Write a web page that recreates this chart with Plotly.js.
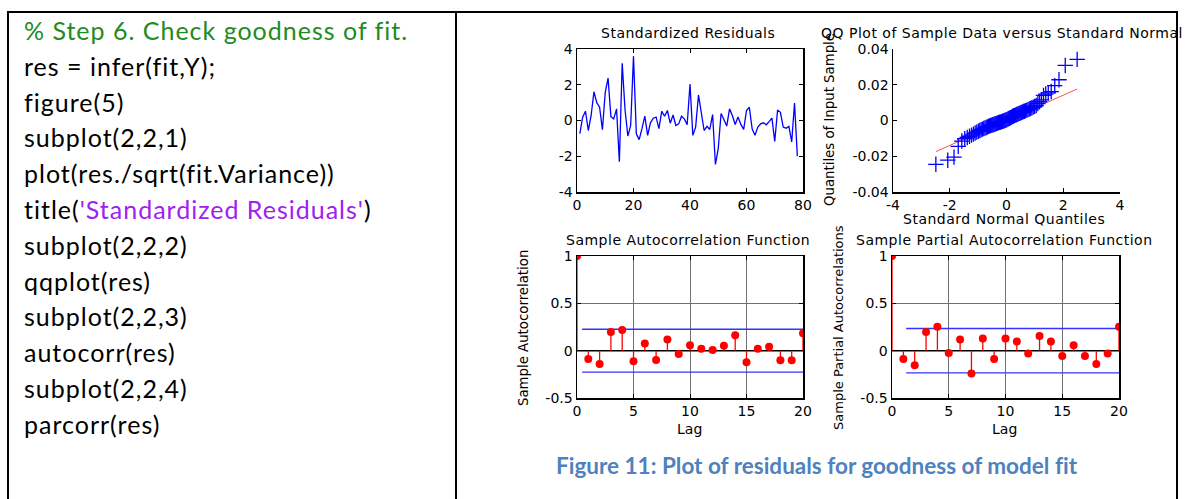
<!DOCTYPE html>
<html>
<head>
<meta charset="utf-8">
<script src="https://cdn.plot.ly/plotly-3.0.1.min.js"></script>
<style>
html,body{margin:0;padding:0;background:#fff;}
#chart{width:1189px;height:499px;}
svg text{font-variant-ligatures:none;font-feature-settings:"liga" 0;}
</style>
</head>
<body>
<div id="chart"></div>
<script>
// ---------------- data ----------------
const codeLines = [
  "% Step 6. Check goodness of fit.",
  "res = infer(fit,Y);",
  "figure(5)",
  "subplot(2,2,1)",
  "plot(res./sqrt(fit.Variance))",
  "title('Standardized Residuals')",
  "subplot(2,2,2)",
  "qqplot(res)",
  "subplot(2,2,3)",
  "autocorr(res)",
  "subplot(2,2,4)",
  "parcorr(res)"
];
const captionText = "Figure 11: Plot of residuals for goodness of model fit";

const residIndex = [1,2,3,4,5,6,7,8,9,10,11,12,13,14,15,16,17,18,19,20,21,22,23,24,25,26,27,28,29,30,31,32,33,34,35,36,37,38,39,40,41,42,43,44,45,46,47,48,49,50,51,52,53,54,55,56,57,58,59,60,61,62,63,64,65,66,67,68,69,70,71,72,73,74,75,76,77,78];
const stdResiduals = [-0.74,0.19,0.52,-0.56,0.28,1.61,1.0,0.74,-0.52,1.57,2.37,0.22,0.09,0.65,-2.31,3.2,0.6,-0.87,-0.28,3.6,
  -0.74,-1.07,-0.46,0.24,-0.83,-0.13,0.13,0.19,-0.46,0.52,0.24,0.56,-0.15,0.31,-0.28,-0.19,0.24,0.09,-0.24,2.04,
  -0.83,-0.37,1.43,0.46,-0.56,-0.33,-0.5,0.33,-2.46,-1.57,0.39,0.06,-0.31,0.65,0.28,-0.22,0.19,-0.22,-0.5,0.56,
  0.74,-0.46,-0.83,-0.37,-0.19,-0.13,-0.24,-0.06,0.13,-1.17,0.59,0.46,-0.37,-0.43,-0.33,-1.2,0.98,-2.0];

const qqTheoretical = [-2.49,-2.07,-1.85,-1.70,-1.575,-1.472,-1.383,-1.304,-1.232,-1.166,-1.105,-1.048,-0.993,-0.942,-0.893,-0.846,-0.801,-0.757,-0.715,-0.674,
  -0.634,-0.596,-0.558,-0.521,-0.484,-0.448,-0.413,-0.378,-0.344,-0.310,-0.277,-0.243,-0.210,-0.178,-0.145,-0.113,-0.080,-0.048,-0.016,
  0.016,0.048,0.080,0.113,0.145,0.178,0.210,0.243,0.277,0.310,0.344,0.378,0.413,0.448,0.484,0.521,0.558,0.596,0.634,0.674,
  0.715,0.757,0.801,0.846,0.893,0.942,0.993,1.048,1.105,1.166,1.232,1.304,1.383,1.472,1.575,1.70,1.85,2.07,2.49];
const qqSample = [-0.0245,-0.0222,-0.0205,-0.0145,-0.0115,-0.0102,-0.0095,-0.0088,-0.0082,-0.0076,-0.0070,-0.0065,-0.0060,-0.0056,-0.0052,-0.0048,-0.0045,-0.0042,-0.0039,-0.0036,
  -0.0033,-0.0030,-0.0028,-0.0026,-0.0024,-0.0022,-0.0020,-0.0018,-0.0016,-0.0014,-0.0012,-0.0010,-0.0009,-0.0007,-0.0005,-0.0003,-0.0001,0.0001,0.0003,
  0.0005,0.0008,0.0011,0.0013,0.0016,0.0019,0.0022,0.0025,0.0027,0.0030,0.0032,0.0035,0.0037,0.0040,0.0042,0.0045,0.0047,0.0050,0.0052,0.0055,
  0.0058,0.0061,0.0064,0.0067,0.0071,0.0075,0.0079,0.0084,0.0095,0.0105,0.0115,0.0140,0.0148,0.0155,0.0162,0.0195,0.0228,0.0308,0.0342];
const qqRefX = [-2.49, 2.49];
const qqRefY = [-0.0174, 0.0176];

const lags = [0,1,2,3,4,5,6,7,8,9,10,11,12,13,14,15,16,17,18,19,20];
const acfValues = [1,-0.087,-0.14,0.196,0.217,-0.112,0.077,-0.098,0.119,-0.035,0.056,0.021,0.007,0.052,0.164,-0.122,0.021,0.042,-0.101,-0.101,0.185];
const pacfValues = [1,-0.087,-0.154,0.196,0.252,-0.024,0.119,-0.241,0.129,-0.087,0.129,0.098,-0.031,0.154,0.098,-0.056,0.056,-0.056,-0.14,-0.031,0.252];
const acfBound = 0.226;
const pacfBound = 0.234;

const resXTicks = [0,20,40,60,80];
const resYTicks = [-4,-2,0,2,4];
const resYText = ["-4","-2","0","2","4"];
const qqXTicks = [-4,-2,0,2,4];
const qqXText = ["-4","-2","0","2","4"];
const qqYTicks = [-0.04,-0.02,0,0.02,0.04];
const qqYText = ["-0.04","-0.02","0","0.02","0.04"];
const corrXTicks = [0,5,10,15,20];
const corrYTicks = [-0.5,0,0.5,1];
const corrYText = ["-0.5","0","0.5","1"];

// ---------------- helpers ----------------
const W = 1189, H = 499;
const px = v => v / W;
const py = v => 1 - v / H;
const PF = "DejaVu Sans, Arial, sans-serif";
const tickFont = {family: PF, size: 14, color: "#000"};

function stems(xs, ys, xa, ya) {
  const x = [], y = [];
  xs.forEach((v, i) => { x.push(v, v, null); y.push(0, ys[i], null); });
  return {x, y, xaxis: xa, yaxis: ya, mode: "lines", type: "scatter",
          line: {color: "#ff0000", width: 1.3}, hoverinfo: "skip", showlegend: false};
}
function dots(xs, ys, xa, ya) {
  return {x: xs, y: ys, xaxis: xa, yaxis: ya, mode: "markers", type: "scatter",
          marker: {color: "#ff0000", size: 8}, showlegend: false};
}
function hline(x0, x1, yv, xa, ya, color, width) {
  return {x: [x0, x1], y: [yv, yv], xaxis: xa, yaxis: ya, mode: "lines", type: "scatter",
          line: {color: color, width: width}, hoverinfo: "skip", showlegend: false};
}

const traces = [
  {x: residIndex, y: stdResiduals, xaxis: "x", yaxis: "y", mode: "lines", type: "scatter",
   line: {color: "#0000ff", width: 1.3}, showlegend: false},
  {x: qqRefX, y: qqRefY, xaxis: "x2", yaxis: "y2", mode: "lines", type: "scatter",
   line: {color: "#ff5050", width: 1}, showlegend: false},
  {x: qqTheoretical, y: qqSample, xaxis: "x2", yaxis: "y2", mode: "markers", type: "scatter",
   marker: {symbol: "cross-thin", size: 11, color: "rgba(0,0,0,0)", line: {color: "#0000ff", width: 1.3}}, showlegend: false},
  hline(0, 20, 0, "x3", "y3", "#000", 1.5),
  hline(0.45, 20, acfBound, "x3", "y3", "#3333ff", 1.3),
  hline(0.45, 20, -acfBound, "x3", "y3", "#3333ff", 1.3),
  stems(lags, acfValues, "x3", "y3"),
  dots(lags, acfValues, "x3", "y3"),
  hline(0, 20, 0, "x4", "y4", "#000", 1.5),
  hline(1.25, 20, pacfBound, "x4", "y4", "#3333ff", 1.3),
  hline(1.25, 20, -pacfBound, "x4", "y4", "#3333ff", 1.3),
  stems(lags, pacfValues, "x4", "y4"),
  dots(lags, pacfValues, "x4", "y4")
];

function axis(dom, range, tickvals, ticktext, anchor, opts) {
  return Object.assign({
    domain: dom, range: range, anchor: anchor, tickmode: "array", tickvals: tickvals,
    ticktext: ticktext || tickvals.map(String),
    showline: true, linecolor: "#000", linewidth: 1.5, mirror: "ticks",
    ticks: "inside", ticklen: 4, tickcolor: "#000", tickwidth: 1,
    showgrid: false, zeroline: false, tickfont: tickFont, fixedrange: true
  }, opts || {});
}

const d1x = [px(577), px(803)], d2x = [px(893), px(1120)];
const d3x = [px(577), px(803)], d4x = [px(892), px(1119)];
const dTop = [py(192), py(49)], dBot = [py(398), py(256)];
const gridOpts = {showgrid: true, gridcolor: "#707070", gridwidth: 1};

const layout = {
  width: W, height: H, autosize: false,
  margin: {l: 0, r: 0, t: 0, b: 0},
  paper_bgcolor: "#fff", plot_bgcolor: "#fff",
  showlegend: false,
  xaxis: axis(d1x, [0, 80], resXTicks, null, "y"),
  yaxis: axis(dTop, [-4, 4], resYTicks, resYText, "x"),
  xaxis2: axis(d2x, [-4, 4], qqXTicks, qqXText, "y2", {mirror: false}),
  yaxis2: axis(dTop, [-0.04, 0.04], qqYTicks, qqYText, "x2", {mirror: false}),
  xaxis3: axis(d3x, [0, 20], corrXTicks, null, "y3", gridOpts),
  yaxis3: axis(dBot, [-0.5, 1], corrYTicks, corrYText, "x3", Object.assign({layer: "below traces"}, gridOpts)),
  xaxis4: axis(d4x, [0, 20], corrXTicks, null, "y4", gridOpts),
  yaxis4: axis(dBot, [-0.5, 1], corrYTicks, corrYText, "x4", Object.assign({layer: "below traces"}, gridOpts)),
  shapes: [
    {type: "line", xref: "paper", yref: "paper", x0: px(7), x1: px(1178), y0: py(12), y1: py(12), line: {color: "#000", width: 2}},
    {type: "line", xref: "paper", yref: "paper", x0: px(8), x1: px(8), y0: py(12), y1: py(505), line: {color: "#000", width: 2}},
    {type: "line", xref: "paper", yref: "paper", x0: px(456), x1: px(456), y0: py(12), y1: py(505), line: {color: "#000", width: 2}},
    {type: "line", xref: "paper", yref: "paper", x0: px(1177), x1: px(1177), y0: py(12), y1: py(505), line: {color: "#000", width: 2}}
  ],
  annotations: []
};

function note(text, x, y, size, opts) {
  layout.annotations.push(Object.assign({
    text: text, xref: "paper", yref: "paper", x: px(x), y: py(y),
    xanchor: "center", yanchor: "middle", showarrow: false,
    font: {family: PF, size: size, color: "#000"}
  }, opts || {}));
}
const sp = (t, ls, color) => '<span style="letter-spacing:' + ls + 'px' + (color ? ';color:' + color : '') + '">' + t + '</span>';

// code lines
const CF = "Lato, 'Open Sans', sans-serif";
const codeLS = 1.0;
codeLines.forEach((t, i) => {
  let txt;
  let color = "#000";
  if (t.startsWith("%")) color = "#228B22";
  const q1 = t.indexOf("'"), q2 = t.lastIndexOf("'");
  if (q1 >= 0 && q2 > q1) {
    txt = sp(t.slice(0, q1), codeLS) + sp(t.slice(q1, q2 + 1), codeLS, "#A020F0") + sp(t.slice(q2 + 1), codeLS);
  } else {
    txt = sp(t, codeLS);
  }
  note(txt, 22, 30 + i * 35.8, 25, {xanchor: "left", font: {family: CF, size: 25, color: color}});
});

// subplot titles and axis labels
const tLS = 0.5;
note(sp("Standardized Residuals", tLS), 688, 33, 14);
note(sp("QQ Plot of Sample Data versus Standard Normal", tLS), 1002, 33, 14);
note(sp("Standard Normal Quantiles", tLS), 1004, 219, 14);
note("Quantiles of Input Sample", 829, 120, 13.3, {textangle: -90});
note(sp("Sample Autocorrelation Function", tLS), 688, 240, 14);
note(sp("Sample Partial Autocorrelation Function", tLS), 1004, 240, 14);
note("Lag", 689, 429, 14);
note("Lag", 1004, 429, 14);
note("Sample Autocorrelation", 523, 328, 13.3, {textangle: -90});
note("Sample Partial Autocorrelations", 838, 328, 13, {textangle: -90});

// caption
note("<b>" + captionText + "</b>", 817, 465, 22.5, {font: {family: CF, size: 22.5, color: "#4F81BD"}});

Plotly.newPlot("chart", traces, layout, {displayModeBar: false, staticPlot: true});
</script>
</body>
</html>
